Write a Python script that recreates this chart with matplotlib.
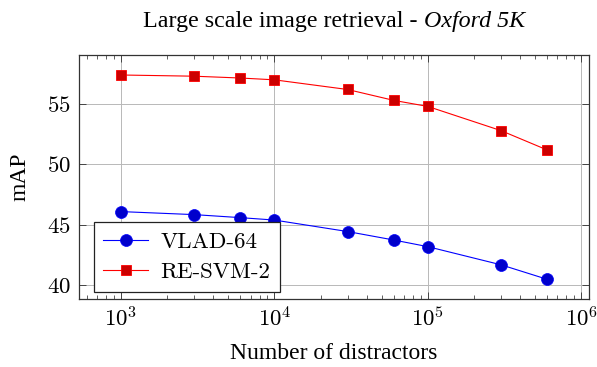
import matplotlib
matplotlib.use("Agg")
import matplotlib.pyplot as plt
from matplotlib.ticker import LogLocator, NullFormatter, FuncFormatter
import numpy as np

plt.rcParams['font.family'] = ['Liberation Serif', 'DejaVu Serif']
plt.rcParams['mathtext.fontset'] = 'cm'

distractors = [1000, 3000, 6000, 10000, 30000, 60000, 100000, 300000, 600000]
vlad64 = [46.1, 45.85, 45.6, 45.4, 44.45, 43.75, 43.2, 41.7, 40.5]
resvm2 = [57.4, 57.3, 57.15, 57.0, 56.2, 55.3, 54.8, 52.8, 51.2]
yticks = [40, 45, 50, 55]

fig = plt.figure(figsize=(5.97, 3.67), dpi=100)
ax = fig.add_axes([0.1323, 0.1853, 0.8538, 0.6657])

ax.plot(distractors, vlad64, color='#0000ff', lw=0.8, marker='o', ms=8.6,
        mfc='#0000cc', mec='#0000ff', mew=0.5, label='VLAD-64', zorder=3)
ax.plot(distractors, resvm2, color='#ff0000', lw=0.8, marker='s', ms=7.6,
        mfc='#cc0000', mec='#ff0000', mew=0.6, label='RE-SVM-2', zorder=3)

ax.set_xscale('log')
ax.set_xlim(532, 1.12e6)
ax.set_ylim(38.87, 59.08)
ax.set_yticks(yticks)
ax.yaxis.set_major_formatter(FuncFormatter(lambda v, p: '$%d$' % v))
ax.xaxis.set_major_locator(LogLocator(base=10, numticks=10))
ax.xaxis.set_major_formatter(FuncFormatter(lambda v, p: '$10^{%d}$' % round(np.log10(v))))
ax.xaxis.set_minor_locator(LogLocator(base=10, subs=range(2, 10), numticks=20))
ax.xaxis.set_minor_formatter(NullFormatter())

ax.grid(True, which='major', color='#b8b8b8', lw=0.7)
ax.set_axisbelow(True)
ax.tick_params(which='both', direction='in', top=True, right=True,
               labelsize=16.5, color='#444444')
ax.tick_params(which='major', length=5, width=0.7, pad=6)
ax.tick_params(which='minor', length=3, width=0.6)
for sp in ax.spines.values():
    sp.set_color('#333333')
    sp.set_linewidth(0.9)

ax.set_xlabel('Number of distractors', fontsize=17, labelpad=8)
ax.set_ylabel('mAP', fontsize=17, labelpad=12)

# title: plain part + italic part, centred over the axes
t1 = fig.text(0, 1 - 27 / 367, 'Large scale image retrieval - ', fontsize=17.3,
              ha='left', va='baseline')
t2 = fig.text(0, 1 - 27 / 367, 'Oxford 5K', fontsize=17.3, style='italic',
              ha='left', va='baseline')
r = fig.canvas.get_renderer()
w1 = t1.get_window_extent(r).width / fig.bbox.width
w2 = t2.get_window_extent(r).width / fig.bbox.width
pos = ax.get_position()
cx = (pos.x0 + pos.x1) / 2
t1.set_x(cx - (w1 + w2) / 2)
t2.set_x(cx - (w1 + w2) / 2 + w1)

leg = ax.legend(loc='lower left', bbox_to_anchor=(0.029, 0.029),
                borderaxespad=0, prop={'family': 'cmr10', 'size': 16.5},
                fancybox=False, edgecolor='#222222', framealpha=1,
                handlelength=1.95, borderpad=0.42, labelspacing=0.46,
                handletextpad=0.55)
leg.get_frame().set_linewidth(0.9)

fig.savefig('out.png', dpi=100)
